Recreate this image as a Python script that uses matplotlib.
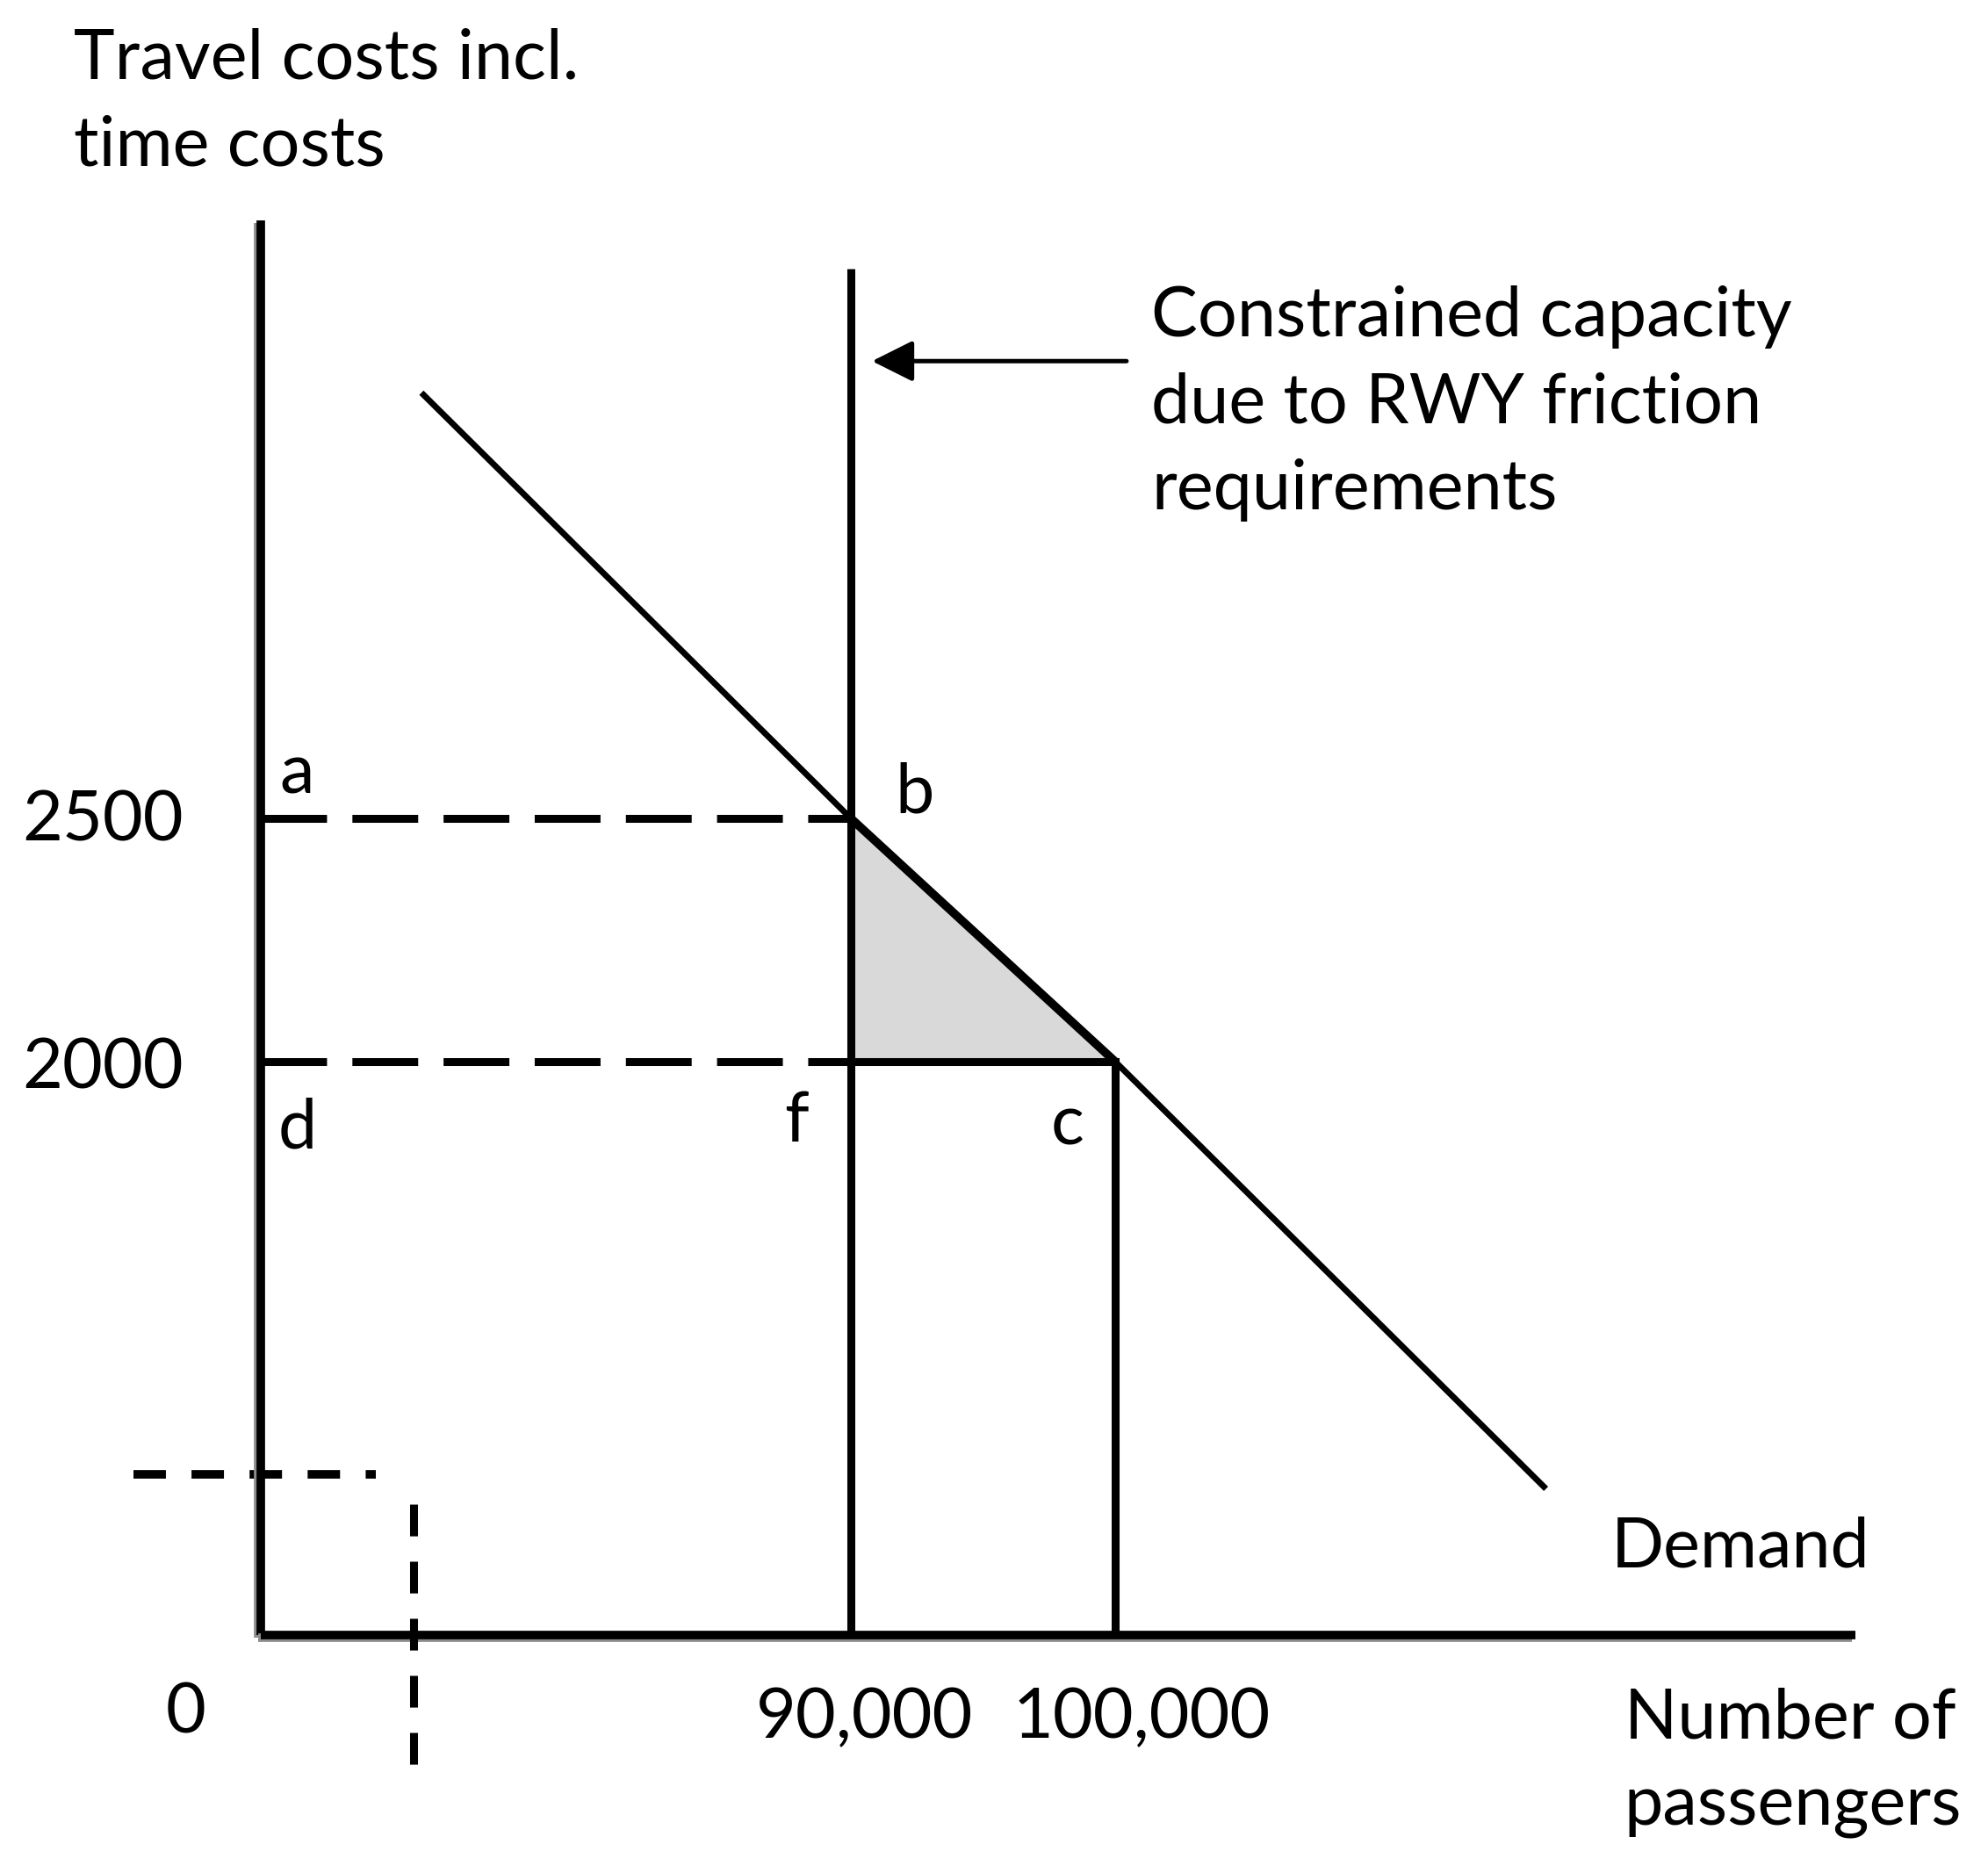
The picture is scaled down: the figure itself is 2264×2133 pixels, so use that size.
import numpy as np
import matplotlib
matplotlib.use("Agg")
import matplotlib.pyplot as plt
import matplotlib.patheffects as pe

plt.rcParams['font.family'] = ['Lato', 'DejaVu Sans']

# values
cost_hi = 2500
cost_lo = 2000
pax_cap = 90000
pax_free = 100000
cost_labels = ["2500", "2000"]
pax_labels = ["90,000", "100,000"]

# demand curve runs through b (90,000 / 2500) and c (100,000 / 2000)
demand_pax = [24500, 90000, 100000, 116300]
demand_cost = [3375, 2500, 2000, 510]

axis_top = 3730
axis_right = 128000
cap_top = 3630

break_h_pax = [-19400, 17540]
break_h_cost = 560
break_v_pax = 23300
break_v_cost = [456, -462]

arrow_y = 3440
arrow_from = 100430
arrow_to = 90800

# the diagram is schematic: piecewise linear scales (value -> pixel from origin)
x_vals = [-50000, 0, 90000, 100000, 140000]
x_pix = [-373.5, 0, 672, 973, 2177]
y_vals = [-1000, 0, 2000, 2500, 5000]
y_pix = [-326.5, 0, 653, 930, 2315]


def fx(v):
    return np.interp(v, x_vals, x_pix)


def ix(p):
    return np.interp(p, x_pix, x_vals)


def fy(v):
    return np.interp(v, y_vals, y_pix)


def iy(p):
    return np.interp(p, y_pix, y_vals)


fig = plt.figure(figsize=(22.64, 21.33), dpi=100)
ax = fig.add_axes([0, 0, 1, 1])
ax.set_xscale('function', functions=(fx, ix))
ax.set_yscale('function', functions=(fy, iy))
ax.set_xlim(ix(-297), ix(1967))
ax.set_ylim(iy(-271), iy(1862))
ax.axis('off')

fs = 57
ls = 1.46
shadow = [pe.SimpleLineShadow(offset=(-2.5, -2.5), shadow_color='0.55', alpha=1), pe.Normal()]

# axes
ax.plot([0, 0], [0, axis_top], color='black', lw=7, solid_capstyle='butt', path_effects=shadow, zorder=5)
ax.plot([0, axis_right], [0, 0], color='black', lw=7, solid_capstyle='butt', path_effects=shadow, zorder=5)

# shaded triangle
ax.fill([pax_cap, pax_cap, pax_free], [cost_hi, cost_lo, cost_lo], color='#d9d9d9', lw=0, zorder=1)

# dashed cost levels
dash = (0, (8.3, 3.2))
ax.plot([0, pax_cap], [cost_hi, cost_hi], color='black', lw=6.5, linestyle=dash, zorder=3)
ax.plot([0, pax_cap], [cost_lo, cost_lo], color='black', lw=6.5, linestyle=dash, zorder=3)
ax.plot([pax_cap, pax_free], [cost_lo, cost_lo], color='black', lw=6.5, solid_capstyle='butt', zorder=3)

# capacity and free-flow verticals
ax.plot([pax_cap, pax_cap], [0, cap_top], color='black', lw=6.5, solid_capstyle='butt', zorder=3)
ax.plot([pax_free, pax_free], [0, cost_lo], color='black', lw=6.5, solid_capstyle='projecting', zorder=3)

# demand curve, thicker between b and c
ax.plot(demand_pax, demand_cost, color='black', lw=5, solid_capstyle='butt', zorder=4)
ax.plot(demand_pax[1:3], demand_cost[1:3], color='black', lw=7, solid_capstyle='butt', zorder=4)

# break marks bottom left
ax.plot(break_h_pax, [break_h_cost, break_h_cost], color='black', lw=7, linestyle=(0, (3.8, 3.0)), zorder=3)
ax.plot([break_v_pax, break_v_pax], break_v_cost, color='black', lw=6.5, linestyle=(0, (4.0, 3.2)), zorder=6)

# arrow + annotation
ax.annotate('', xy=(arrow_to, arrow_y), xytext=(arrow_from, arrow_y),
            arrowprops=dict(arrowstyle='-|>,head_length=0.6,head_width=0.3', mutation_scale=48,
                            lw=3.6, color='black', shrinkA=0, shrinkB=0))
ax.annotate('Constrained capacity\ndue to RWY friction\nrequirements', xy=(arrow_from, arrow_y),
            xytext=(28, -48), textcoords='offset pixels', ha='left', va='center',
            fontsize=fs, linespacing=ls)

# point labels
pts = [('a', 0, cost_hi, 41, 51), ('b', pax_cap, cost_hi, 73, 28),
       ('d', 0, cost_lo, 42, -76), ('f', pax_cap, cost_lo, -62, -69),
       ('c', pax_free, cost_lo, -54, -73)]
for lab, px, py, dx, dy in pts:
    ax.annotate(lab, xy=(px, py), xytext=(dx, dy), textcoords='offset pixels',
                ha='center', va='center', fontsize=fs)

# tick labels
for lab, v, dy in zip(cost_labels, [cost_hi, cost_lo], [-4, -8]):
    ax.annotate(lab, xy=(0, v), xytext=(-88, dy), textcoords='offset pixels',
                ha='right', va='center', fontsize=fs)
for lab, v, dx in zip(pax_labels, [pax_cap, pax_free], [16, 30]):
    ax.annotate(lab, xy=(v, 0), xytext=(dx, -95), textcoords='offset pixels',
                ha='center', va='center', fontsize=fs)
ax.annotate('0', xy=(0, 0), xytext=(-85, -90), textcoords='offset pixels',
            ha='center', va='center', fontsize=fs)

ax.annotate('Demand', xy=(demand_pax[-1], demand_cost[-1]), xytext=(74, -67),
            textcoords='offset pixels', ha='left', va='center', fontsize=fs)
ax.annotate('Number of\npassengers', xy=(axis_right, 0), xytext=(-263, -146),
            textcoords='offset pixels', ha='left', va='center', fontsize=fs, linespacing=ls)

fig.text(84 / 2264, 1 - 117 / 2133, 'Travel costs incl.\ntime costs', ha='left', va='center',
         fontsize=fs, linespacing=ls)

fig.savefig('out.png', dpi=100, facecolor='white')
